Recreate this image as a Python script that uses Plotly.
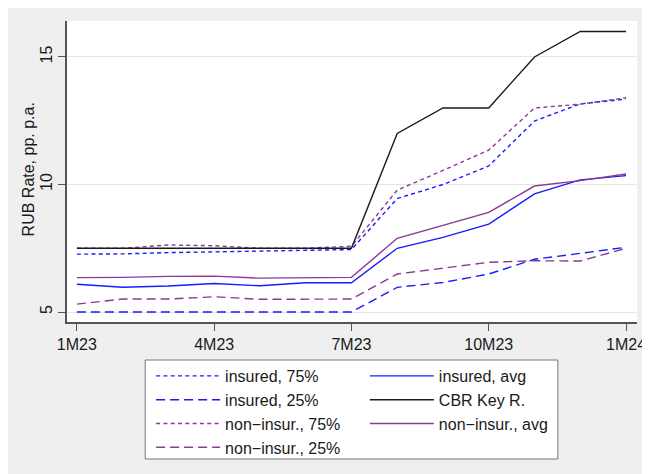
import plotly.graph_objects as go

months = ["1M23", "2M23", "3M23", "4M23", "5M23", "6M23", "7M23",
          "8M23", "9M23", "10M23", "11M23", "12M23", "1M24"]
tick_labels = ["1M23", "4M23", "7M23", "10M23", "1M24"]
y_title = "RUB Rate, pp. p.a."

insured_75 = [7.27, 7.28, 7.33, 7.36, 7.37, 7.40, 7.45, 9.45, 10.0, 10.73, 12.49, 13.16, 13.35]
insured_25 = [5.0, 5.0, 5.0, 5.0, 5.0, 5.0, 5.0, 5.97, 6.16, 6.49, 7.07, 7.30, 7.54]
noninsur_75 = [7.50, 7.50, 7.63, 7.60, 7.50, 7.50, 7.58, 9.78, 10.55, 11.35, 13.0, 13.15, 13.40]
noninsur_25 = [5.31, 5.51, 5.51, 5.60, 5.50, 5.50, 5.51, 6.49, 6.72, 6.95, 7.01, 7.0, 7.50]
insured_avg = [6.09, 5.97, 6.02, 6.12, 6.03, 6.15, 6.15, 7.50, 7.93, 8.45, 9.63, 10.18, 10.35]
cbr_key = [7.5, 7.5, 7.5, 7.5, 7.5, 7.5, 7.5, 12.0, 13.0, 13.0, 15.0, 16.0, 16.0]
noninsur_avg = [6.35, 6.36, 6.40, 6.41, 6.33, 6.35, 6.36, 7.89, 8.40, 8.91, 9.94, 10.15, 10.41]

BLUE = "#1a1aff"
PURPLE = "#8a3a96"
BLACK = "#1a1a1a"
DOT = "4px,3.3px"
DASH = "9px,5px"

x = list(range(len(months)))

series = [
    ("insured, 75%", insured_75, BLUE, DOT, "legend"),
    ("insured, 25%", insured_25, BLUE, DASH, "legend"),
    ("non\u2212insur., 75%", noninsur_75, PURPLE, DOT, "legend"),
    ("non\u2212insur., 25%", noninsur_25, PURPLE, DASH, "legend"),
    ("insured, avg", insured_avg, BLUE, "solid", "legend2"),
    ("CBR Key R.", cbr_key, BLACK, "solid", "legend2"),
    ("non\u2212insur., avg", noninsur_avg, PURPLE, "solid", "legend2"),
]

fig = go.Figure()
for name, vals, col, dash, leg in series:
    fig.add_trace(go.Scatter(
        x=x, y=vals, mode="lines", name=name,
        line=dict(color=col, width=1.4, dash=dash),
        legend=leg,
    ))

W, H = 650, 474
L, R, T, B = 59, 15, 13, 160
pw, ph = W - L - R, H - T - B

def px_x(p):
    return (p - L) / pw

def px_y(p):
    return (H - B - p) / ph

FONT = "Liberation Sans, Arial, Helvetica, sans-serif"

shapes = [
    # legend box
    dict(type="rect", xref="paper", yref="paper", x0=px_x(138), x1=px_x(555), y0=px_y(451), y1=px_y(352),
         fillcolor="white", line=dict(color="#777777", width=1), layer="below"),
]

legend_common = dict(
    bgcolor="rgba(0,0,0,0)", borderwidth=0,
    font=dict(family=FONT, size=16, color="#1a1a1a"),
    xanchor="left", yanchor="top", orientation="v",
    itemwidth=64, tracegroupgap=0,
)

fig.update_layout(
    width=W, height=H,
    margin=dict(l=L, r=R, t=T, b=B),
    paper_bgcolor="#efefef",
    plot_bgcolor="white",
    font=dict(family=FONT, size=16, color="#1a1a1a"),
    showlegend=True,
    legend=dict(x=px_x(144), y=px_y(351), **legend_common),
    legend2=dict(x=px_x(360), y=px_y(351), **legend_common),
    shapes=shapes,
    annotations=[dict(
        text=y_title, xref="paper", yref="paper",
        x=px_x(20.5), y=px_y(161.5), xanchor="center", yanchor="middle",
        textangle=-90, showarrow=False,
        font=dict(family=FONT, size=16, color="#1a1a1a"),
    )],
    xaxis=dict(
        range=[-0.216, 12.24],
        tickmode="array", tickvals=[0, 3, 6, 9, 12], ticktext=tick_labels,
        ticklabeloverflow="allow",
        showgrid=False, zeroline=False,
        showline=True, linecolor="#555555", linewidth=1.5,
        ticks="outside", ticklen=7, tickcolor="#555555", tickwidth=1.2,
        tickfont=dict(family=FONT, size=16, color="#1a1a1a"),
    ),
    yaxis=dict(
        range=[4.61, 16.41],
        tickmode="array", tickvals=[5, 10, 15], ticktext=["5", "10", "15"],
        tickangle=-90,
        showgrid=True, gridcolor="#e6e6e6", gridwidth=1,
        zeroline=False,
        showline=True, linecolor="#555555", linewidth=1.5,
        ticks="outside", ticklen=7, tickcolor="#555555", tickwidth=1.2,
        tickfont=dict(family=FONT, size=16, color="#1a1a1a"),
    ),
)

fig.write_html("out.html")
